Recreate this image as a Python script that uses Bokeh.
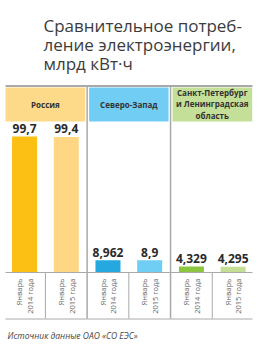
import math
from bokeh.plotting import figure
from bokeh.models import Range1d, ColumnDataSource
from bokeh.core.properties import value
from bokeh.embed import file_html
from bokeh.resources import INLINE

# ---- data ----
title_lines = ["Сравнительное потреб-", "ление электроэнергии,", "млрд кВт·ч"]
regions = ["Россия", "Северо-Запад", "Санкт-Петербург\nи Ленинградская\nобласть"]
periods = ["Январь\n2014 года", "Январь\n2015 года"]
values_2014 = [99.7, 8.962, 4.329]
values_2015 = [99.4, 8.9, 4.295]
labels_2014 = ["99,7", "8,962", "4,329"]
labels_2015 = ["99,4", "8,9", "4,295"]
source_note = "Источник данные ОАО «СО ЕЭС»"

colors_2014 = ["#fcbf14", "#25a7e0", "#8cc540"]
colors_2015 = ["#fed684", "#70cdf4", "#c4df95"]
header_colors = ["#fdd98a", "#72cdf4", "#c4df98"]

W, H = 264, 347
# pixel geometry helpers (layout only)
X0, SLOT = 3.2, 41.71
BASE = 272.0
K = 136.0 / 99.7


def ux(px):
    return (px - X0) / SLOT


def vy(py):
    return (BASE - py) / K


p = figure(width=W, height=H, output_backend="svg", toolbar_location=None,
           x_range=Range1d(ux(0), ux(W)), y_range=Range1d(vy(H), vy(0)),
           x_axis_location=None, y_axis_location=None, min_border=0)
p.grid.visible = False
p.outline_line_color = None
p.background_fill_color = "white"
p.border_fill_color = "white"

# build bar table from the data arrays
xs, tops, cols, labs, ticks = [], [], [], [], []
for g in range(len(regions)):
    for j, (vals, cs, ls) in enumerate([(values_2014, colors_2014, labels_2014),
                                        (values_2015, colors_2015, labels_2015)]):
        xs.append(2 * g + j + 0.5)
        tops.append(vals[g])
        cols.append(cs[g])
        labs.append(ls[g])
        ticks.append(periods[j])
src = ColumnDataSource(dict(x=xs, top=tops, color=cols, label=labs, tick=ticks))

# title
for i, t in enumerate(title_lines):
    p.text(x=[ux(43)], y=[vy(25 + 19.2 * i)], text=[t], text_font=value("Open Sans"),
           text_font_size="17px", text_color="#3c3c3c", text_baseline="alphabetic",
           text_align="left")

# top grey line
p.segment(x0=[ux(5)], x1=[ux(252)], y0=[vy(85.5)], y1=[vy(85.5)], line_color="#a9a9a9", line_width=2)

# headers
ng = len(regions)
hl = [ux(5) if g == 0 else 2 * g + ux(X0 + 2.0) for g in range(ng)]
hr = [2 * (g + 1) + ux(X0 - 2.0) if g < ng - 1 else ux(251.7) for g in range(ng)]
p.quad(left=hl, right=hr, top=[vy(87)] * ng, bottom=[vy(121)] * ng, fill_color=header_colors, line_color=None)
p.text(x=[2 * g + 1 for g in range(ng)], y=[vy(103.5)] * ng, text=regions,
       text_font=value("Open Sans"), text_font_style="bold", text_font_size="8px",
       text_color="#333333", text_align="center", text_baseline="middle", text_line_height=1.05)

# group separators
p.segment(x0=[2 * g for g in range(1, ng)], x1=[2 * g for g in range(1, ng)],
          y0=[vy(86)] * (ng - 1), y1=[vy(318)] * (ng - 1), line_color="#a9a9a9", line_width=1.5)
# within-group separators
p.segment(x0=[2 * g + 1 for g in range(ng)], x1=[2 * g + 1 for g in range(ng)],
          y0=[0] * ng, y1=[vy(318)] * ng, line_color="#a9a9a9", line_width=1)

# bars
p.vbar(x="x", top="top", bottom=0, width=0.6, fill_color="color", line_color=None, source=src)

# baseline & bottom line
p.segment(x0=[ux(5), ux(5)], x1=[ux(252), ux(252)], y0=[0, vy(318.5)], y1=[0, vy(318.5)],
          line_color="#a9a9a9", line_width=1)

# value labels
p.text(x="x", y="top", text="label", source=src, text_font=value("Open Sans"),
       text_font_style="bold", text_font_size="12px", text_color="#2a2a2a",
       text_align="center", text_baseline="alphabetic", y_offset=-8)

# tick labels (rotated)
p.text(x="x", y=vy(278), text="tick", source=src, angle=math.pi / 2, text_font=value("Open Sans"),
       text_font_size="7.5px", text_color="#666666", text_align="right", text_baseline="middle",
       text_line_height=1.05)

# source note
p.text(x=[ux(7)], y=[vy(335)], text=[source_note], text_font=value("Open Sans"),
       text_font_style="italic", text_font_size="8.5px", text_color="#444444",
       text_align="left", text_baseline="alphabetic")

open("out.html", "w").write(file_html(p, INLINE))
